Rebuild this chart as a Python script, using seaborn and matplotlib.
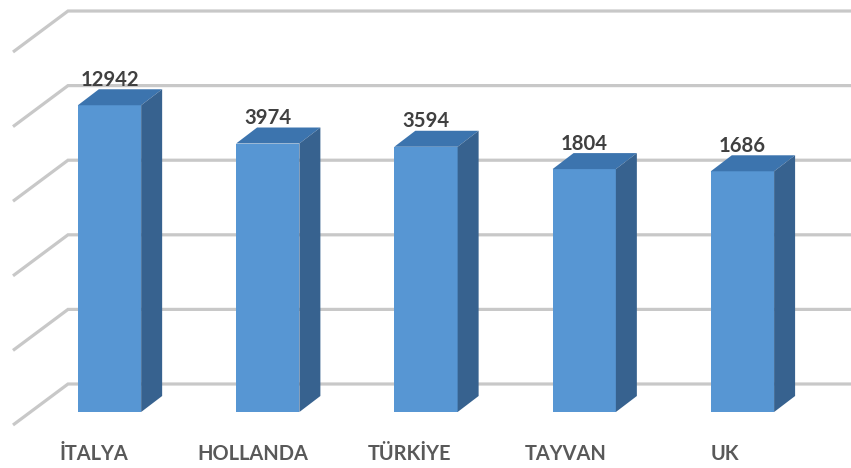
import matplotlib
matplotlib.use("Agg")
import matplotlib.pyplot as plt
import pandas as pd
import seaborn as sns
from matplotlib.lines import Line2D
from matplotlib.patches import Polygon
from matplotlib.transforms import Affine2D, IdentityTransform

countries = ["İTALYA", "HOLLANDA", "TÜRKİYE", "TAYVAN", "UK"]
values = [12942, 3974, 3594, 1804, 1686]
grid_levels = [1, 10, 100, 1000, 10000, 100000]

FRONT = "#5796D3"
TOP = "#3C74AE"
SIDE = "#37628F"
GRID = "#C8C8C8"
DEPTH_X, DEPTH_Y = 21, 16  # bar depth in pixels

sns.set_theme(style="white")
plt.rcParams["font.family"] = ["Lato", "DejaVu Sans"]

W, H = 851, 468
fig = plt.figure(figsize=(W / 100, H / 100), dpi=100)
ax = fig.add_axes([0, (H - 412) / H, 1, 412 / H])

df = pd.DataFrame({"country": countries, "value": values})
sns.barplot(data=df, x="country", y="value", order=countries, color=FRONT,
            saturation=1, width=0.4, ax=ax, linewidth=0, zorder=2)

ax.set_yscale("log")
ax.set_xlim(-0.692, 4.686)
ax.set_ylim(1, 10 ** 5.523)
ax.set_xlabel("")
ax.set_ylabel("")
ax.tick_params(axis="y", which="both", left=False, labelleft=False)
ax.tick_params(axis="x", length=0, pad=23)
sns.despine(ax=ax, left=True, bottom=True, top=True, right=True)

# tick labels sit left of the bars, under the front of the floor
for lab, dx in zip(ax.get_xticklabels(), [-16, -15, -16, -19, -18]):
    lab.set_transform(lab.get_transform() + Affine2D().translate(dx, 0))
    lab.set_fontsize(14.4)
    lab.set_fontweight("bold")
    lab.set_color("#595959")

# back wall gridlines with the slanted part on the side wall
for level in grid_levels:
    y = ax.transData.transform((0, level))[1]
    ax.add_line(Line2D([13, 68, W], [y - 13, y + 28, y + 28], color=GRID, lw=2.3,
                       transform=IdentityTransform(), clip_on=False, zorder=1,
                       solid_joinstyle="miter", solid_capstyle="butt"))

# fake 3D: top and side faces from the bars seaborn drew
for bar, val in zip(ax.patches, values):
    x0, x1 = bar.get_x(), bar.get_x() + bar.get_width()
    lx, ty = ax.transData.transform((x0, val))
    rx, by = ax.transData.transform((x1, 1))
    top_face = [(lx, ty), (rx, ty), (rx + DEPTH_X, ty + DEPTH_Y), (lx + DEPTH_X, ty + DEPTH_Y)]
    side_face = [(rx, by), (rx, ty), (rx + DEPTH_X, ty + DEPTH_Y), (rx + DEPTH_X, by + DEPTH_Y)]
    ax.add_patch(Polygon(top_face, closed=True, fc=TOP, ec="none",
                         transform=IdentityTransform(), clip_on=False, zorder=2))
    ax.add_patch(Polygon(side_face, closed=True, fc=SIDE, ec="none",
                         transform=IdentityTransform(), clip_on=False, zorder=2))
    ax.text((lx + rx) / 2, ty + DEPTH_Y + 9.5, str(val), transform=IdentityTransform(),
            ha="center", va="center", fontsize=14.6, fontweight="bold", color="#404040", zorder=3)

fig.savefig("out.png", dpi=100, facecolor="white")
plt.close(fig)
